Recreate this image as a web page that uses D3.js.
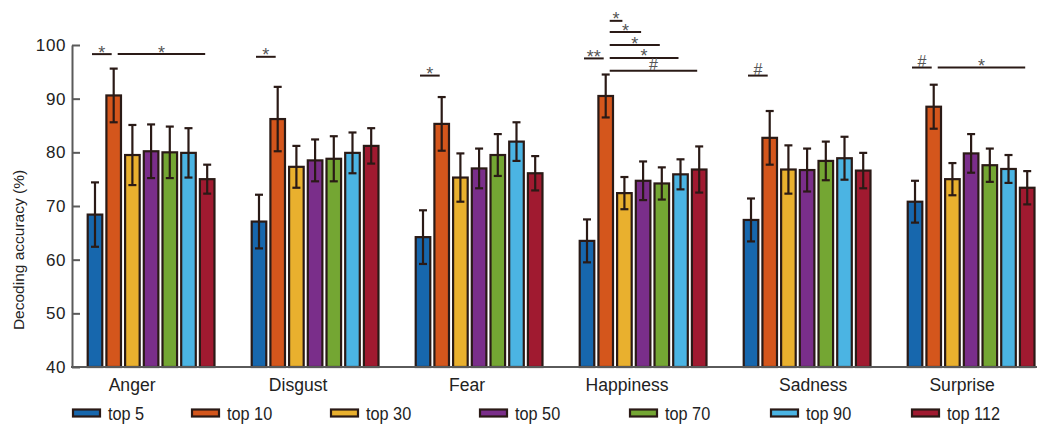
<!DOCTYPE html>
<html>
<head>
<meta charset="utf-8">
<script src="https://cdn.jsdelivr.net/npm/d3@7"></script>
<style>
  html, body { margin: 0; padding: 0; background: #fff; }
  svg { display: block; }
  .tick text { font-family: "Liberation Sans", Arial, sans-serif; }
</style>
</head>
<body>
<svg id="chart" width="1041" height="433"></svg>
<script>
// Emotion categories and the feature-set sizes compared within each one
const categories = ["Anger", "Disgust", "Fear", "Happiness", "Sadness", "Surprise"];
const seriesNames = ["top 5", "top 10", "top 30", "top 50", "top 70", "top 90", "top 112"];

// Mean decoding accuracy (%) per series, in category order
const top5   = [68.4, 67.1, 64.2, 63.5, 67.4, 70.8];
const top10  = [90.6, 86.2, 85.3, 90.5, 82.7, 88.5];
const top30  = [79.5, 77.3, 75.3, 72.4, 76.8, 75.0];
const top50  = [80.2, 78.5, 77.0, 74.7, 76.7, 79.8];
const top70  = [80.0, 78.8, 79.5, 74.2, 78.4, 77.6];
const top90  = [79.9, 79.9, 82.0, 75.9, 78.9, 76.9];
const top112 = [75.0, 81.2, 76.1, 76.8, 76.6, 73.4];

// Error-bar half widths (%) per series, in category order
const err5   = [6.0, 5.0, 5.0, 4.0, 4.0, 3.9];
const err10  = [5.0, 6.0, 5.0, 4.0, 5.0, 4.1];
const err30  = [5.6, 3.9, 4.5, 3.0, 4.5, 3.0];
const err50  = [5.0, 3.9, 3.7, 3.6, 4.0, 3.6];
const err70  = [4.8, 4.2, 3.9, 3.0, 3.6, 3.1];
const err90  = [4.6, 3.8, 3.6, 2.8, 4.0, 2.6];
const err112 = [2.7, 3.3, 3.2, 4.3, 3.3, 3.1];

// Y axis ticks
const yTicks = [40, 50, 60, 70, 80, 90, 100];

// Significance brackets: category, first bar, last bar, bracket level (%), marker
const sigCategory = [0, 0, 1, 2, 3, 3, 3, 3, 3, 3, 4, 5, 5];
const sigFrom     = [0, 1, 0, 0, 0, 1, 1, 1, 1, 1, 0, 0, 1];
const sigTo       = [1, 6, 1, 1, 1, 2, 3, 4, 5, 6, 1, 1, 6];
const sigLevel    = [98.3, 98.3, 97.8, 94.3, 97.5, 104.5, 102.4, 100.0, 97.6, 95.2, 94.3, 95.8, 95.8];
const sigMark     = ["*", "*", "*", "*", "**", "*", "*", "*", "*", "#", "#", "#", "*"];

const means = [top5, top10, top30, top50, top70, top90, top112];
const errs  = [err5, err10, err30, err50, err70, err90, err112];
const colors = ["#1767ad", "#d4561c", "#e9b02e", "#7a2e8a", "#74a633", "#4bb4e3", "#a01a30"];

const rows = [];
categories.forEach((c, ci) => {
  seriesNames.forEach((s, si) => {
    rows.push({ category: c, series: s, si, value: means[si][ci], err: errs[si][ci] });
  });
});

const svg = d3.select("#chart");
const ink = "#2a1a16";
const axisGrey = "#5a5a5a";

const y = d3.scaleLinear().domain([40, 100]).range([367, 45]);

const x0 = d3.scaleBand()
  .domain(categories)
  .range([87.7, 1034.5])
  .paddingInner(0.227)
  .paddingOuter(0);

const x1 = d3.scaleBand()
  .domain(seriesNames)
  .range([0, x0.bandwidth()])
  .paddingInner(0.22)
  .paddingOuter(0);

const color = d3.scaleOrdinal().domain(seriesNames).range(colors);

const cx = (cat, s) => x0(cat) + x1(s) + x1.bandwidth() / 2;

// Bars
svg.append("g").selectAll("rect")
  .data(rows)
  .join("rect")
  .attr("x", d => x0(d.category) + x1(d.series))
  .attr("y", d => y(d.value))
  .attr("width", x1.bandwidth())
  .attr("height", d => y(40) - y(d.value))
  .attr("fill", d => color(d.series))
  .attr("stroke", ink)
  .attr("stroke-width", 2.2);

// Error bars
const eb = svg.append("g").attr("stroke", ink).attr("stroke-width", 2.2);
const capHalf = 4;
rows.forEach(d => {
  const xc = cx(d.category, d.series);
  eb.append("line").attr("x1", xc).attr("x2", xc)
    .attr("y1", y(d.value + d.err)).attr("y2", y(d.value - d.err));
  [d.value + d.err, d.value - d.err].forEach(v => {
    eb.append("line").attr("x1", xc - capHalf).attr("x2", xc + capHalf)
      .attr("y1", y(v)).attr("y2", y(v));
  });
});

// Y axis with inward ticks
const yAxis = d3.axisLeft(y).tickValues(yTicks).tickSizeInner(-8).tickSizeOuter(0).tickPadding(6);
const gy = svg.append("g").attr("transform", "translate(72,0)").call(yAxis);
gy.select(".domain").attr("stroke", axisGrey).attr("stroke-width", 2);
gy.selectAll(".tick line").attr("stroke", axisGrey).attr("stroke-width", 2);
gy.selectAll(".tick text")
  .attr("font-size", 17).attr("fill", "#222").attr("letter-spacing", 0.6);

// Baseline
svg.append("line")
  .attr("x1", 71).attr("x2", 1037)
  .attr("y1", y(40)).attr("y2", y(40))
  .attr("stroke", axisGrey).attr("stroke-width", 2);

// Y axis title
svg.append("text")
  .attr("transform", "translate(24,250) rotate(-90)")
  .attr("text-anchor", "middle")
  .attr("font-family", "Liberation Sans, Arial, sans-serif")
  .attr("font-size", 15.5)
  .attr("fill", "#222")
  .text("Decoding accuracy (%)");

// Category labels (slightly condensed)
const labelFont = "'Liberation Sans', Arial, sans-serif";
const labelNudge = [-19, -17, -12, -16, 6, -9];
svg.append("g").selectAll("text")
  .data(categories)
  .join("text")
  .attr("transform", (c, i) =>
    `translate(${x0(c) + x0.bandwidth() / 2 + labelNudge[i]},391) scale(0.95,1)`)
  .attr("text-anchor", "middle")
  .attr("font-family", labelFont)
  .attr("font-size", 18.5)
  .attr("fill", "#222")
  .text(c => c);

// Significance brackets
const sg = svg.append("g");
sigCategory.forEach((ci, k) => {
  const cat = categories[ci];
  const a = seriesNames[sigFrom[k]], b = seriesNames[sigTo[k]];
  const xa = cx(cat, a) + (sigFrom[k] === 0 ? -3 : 4);
  const xb = cx(cat, b) - 2;
  const ly = y(sigLevel[k]);
  sg.append("line")
    .attr("x1", xa).attr("x2", xb).attr("y1", ly).attr("y2", ly)
    .attr("stroke", ink).attr("stroke-width", 2);
  sg.append("text")
    .attr("x", (xa + xb) / 2)
    .attr("y", ly + (sigMark[k] === "#" ? -1 : 4.5))
    .attr("text-anchor", "middle")
    .attr("font-family", "Liberation Sans, Arial, sans-serif")
    .attr("font-size", sigMark[k] === "#" ? 16 : 18)
    .attr("fill", "#555")
    .text(sigMark[k]);
});

// Legend
const legendX = [73, 192, 331, 480, 630, 771, 912];
const lg = svg.append("g").selectAll("g")
  .data(seriesNames)
  .join("g")
  .attr("transform", (s, i) => `translate(${legendX[i]},413)`);
lg.append("rect")
  .attr("x", 0).attr("y", -3.5).attr("width", 27).attr("height", 7)
  .attr("fill", s => color(s)).attr("stroke", ink).attr("stroke-width", 2.2);
lg.append("text")
  .attr("transform", "translate(35,6.5) scale(0.93,1)")
  .attr("font-family", labelFont)
  .attr("font-size", 17.5)
  .attr("fill", "#222")
  .text(s => s);
</script>
</body>
</html>
